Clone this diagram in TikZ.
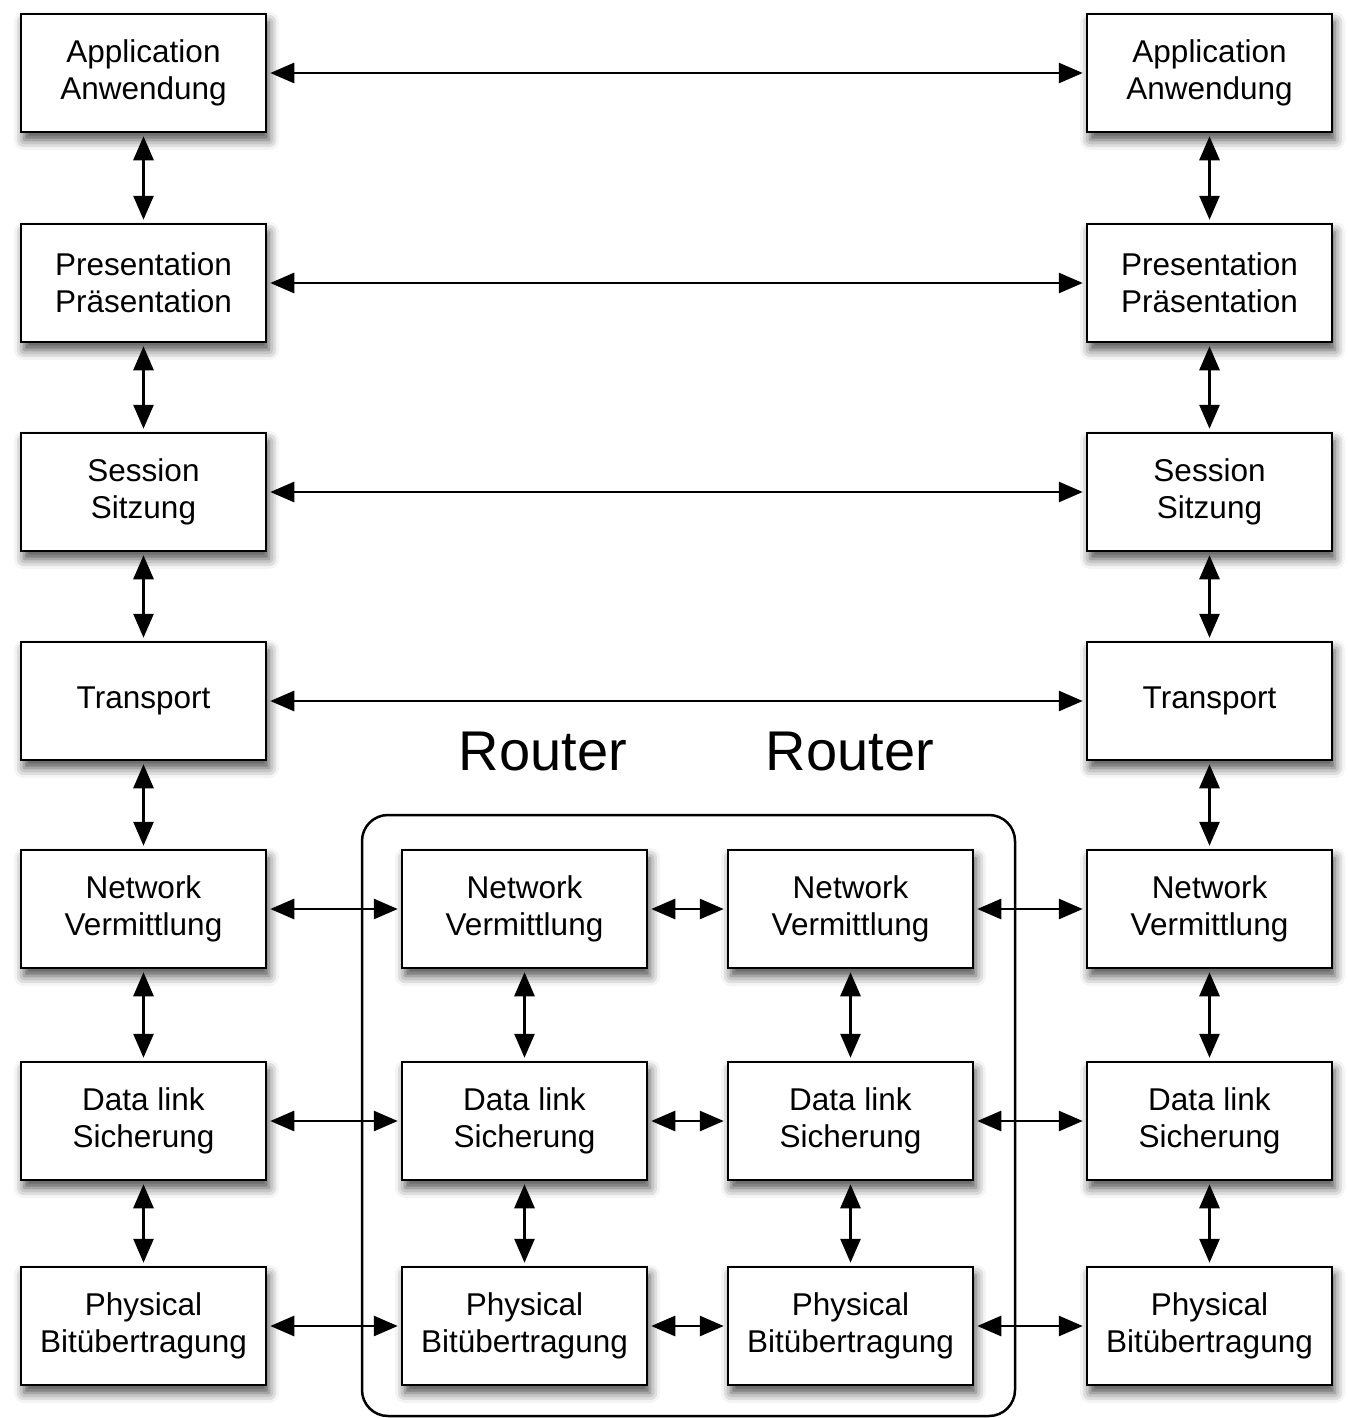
\documentclass[tikz,border=0pt]{standalone}
\usepackage{fontspec}
\setmainfont{Liberation Sans}
\usetikzlibrary{arrows.meta,shadows.blur}
\begin{document}
\begin{tikzpicture}[x=1pt,y=-1pt,
  layer/.style={draw=black, line width=2.5pt, fill=white,
    minimum width=245pt, minimum height=118pt, align=center,
    font=\fontsize{31.5}{37}\selectfont,
    blur shadow={shadow xshift=3pt, shadow yshift=-8pt,
      shadow blur radius=10pt, shadow opacity=70}},
  link/.style={{Triangle[length=24pt,width=20pt]}-{Triangle[length=24pt,width=20pt]},
    line width=2.8pt, shorten <=3pt, shorten >=3pt},
  title/.style={font=\fontsize{56}{60}\selectfont}]
\useasboundingbox (0,0) rectangle (1348,1418);

% router enclosure
\draw[line width=2.5pt, rounded corners=26pt] (362,815) rectangle (1015,1416);
\node[title] (t1) at (543,752) {Router};
\node[title] (t2) at (850,752) {Router};

% end system, left
\node[layer] (l1) at (143.5,73)   {Application\\Anwendung};
\node[layer] (l2) at (143.5,283)  {Presentation\\Präsentation};
\node[layer] (l3) at (143.5,492)  {Session\\Sitzung};
\node[layer] (l4) at (143.5,701)  {Transport};
\node[layer] (l5) at (143.5,909)  {Network\\Vermittlung};
\node[layer] (l6) at (143.5,1121) {Data link\\Sicherung};
\node[layer] (l7) at (143.5,1326) {Physical\\Bitübertragung};

% end system, right
\node[layer] (r1) at (1209.5,73)   {Application\\Anwendung};
\node[layer] (r2) at (1209.5,283)  {Presentation\\Präsentation};
\node[layer] (r3) at (1209.5,492)  {Session\\Sitzung};
\node[layer] (r4) at (1209.5,701)  {Transport};
\node[layer] (r5) at (1209.5,909)  {Network\\Vermittlung};
\node[layer] (r6) at (1209.5,1121) {Data link\\Sicherung};
\node[layer] (r7) at (1209.5,1326) {Physical\\Bitübertragung};

% first router
\node[layer] (a5) at (524.5,909)  {Network\\Vermittlung};
\node[layer] (a6) at (524.5,1121) {Data link\\Sicherung};
\node[layer] (a7) at (524.5,1326) {Physical\\Bitübertragung};

% second router
\node[layer] (b5) at (850.5,909)  {Network\\Vermittlung};
\node[layer] (b6) at (850.5,1121) {Data link\\Sicherung};
\node[layer] (b7) at (850.5,1326) {Physical\\Bitübertragung};

% vertical stacks
\foreach \s in {l,r}{
  \draw[link] (\s1) -- (\s2);
  \draw[link] (\s2) -- (\s3);
  \draw[link] (\s3) -- (\s4);
  \draw[link] (\s4) -- (\s5);
  \draw[link] (\s5) -- (\s6);
  \draw[link] (\s6) -- (\s7);
}
\foreach \s in {a,b}{
  \draw[link] (\s5) -- (\s6);
  \draw[link] (\s6) -- (\s7);
}

% peer links
\foreach \i in {1,2,3,4}{
  \draw[link] (l\i) -- (r\i);
}
\foreach \i in {5,6,7}{
  \draw[link] (l\i) -- (a\i);
  \draw[link] (a\i) -- (b\i);
  \draw[link] (b\i) -- (r\i);
}
\end{tikzpicture}
\end{document}
